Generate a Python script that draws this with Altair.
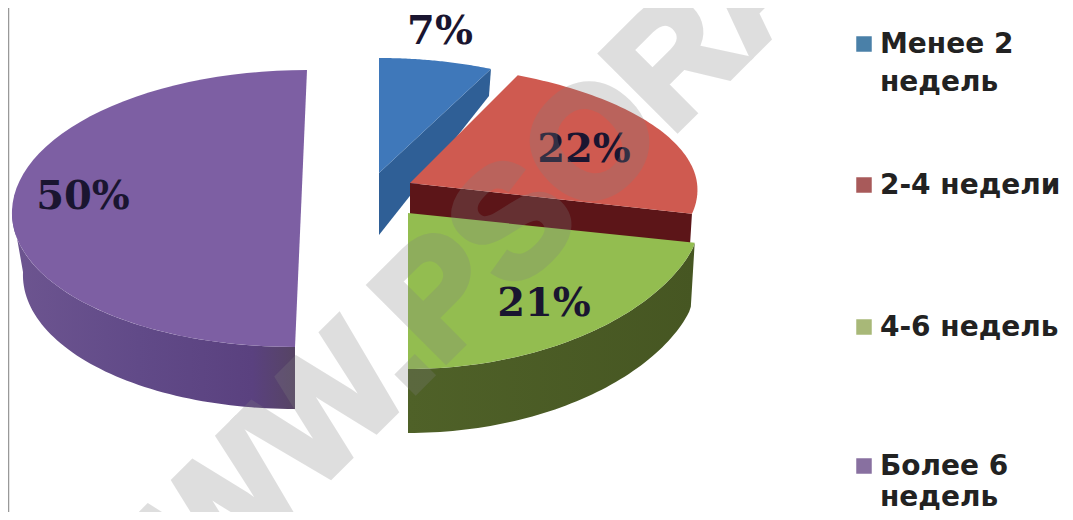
import math
import altair as alt
import pandas as pd

categories = ["Менее 2 недель", "2-4 недели", "4-6 недель", "Более 6 недель"]
shares = [7, 22, 21, 50]
top_colors = ["#3f78ba", "#cf5a50", "#93bd50", "#7d5fa3"]
wall_colors = ["#2f5f96", "#5c1518", "#4a5c24", "#5d4483"]
key_colors = ["#4a80a8", "#a85a5a", "#a8b878", "#8870a0"]
pct_labels = ["7%", "22%", "21%", "50%"]
legend_lines = [["Менее 2", "недель"], ["2-4 недели"], ["4-6 недель"], ["Более 6", "недель"]]

W, H = 1057, 504
xs = alt.Scale(domain=[8, 8 + W], range=[0, W])
ys = alt.Scale(domain=[8, 8 + H], range=[0, H])

# slice geometry (centre, radii back/front/edge, skew, wall height, lower radius)
geom = [
    dict(cx=379, cy=173, rx=263, rb=115, rf=115, re=115, sk=0, dy=62, rx2=263),
    dict(cx=410, cy=183, rx=287, rb=119, rf=124, re=124, sk=-16, dy=27, rx2=287),
    dict(cx=408, cy=213, rx=296, rb=120, rf=156, re=120, sk=0, dy=64, rx2=292),
    dict(cx=301, cy=210, rx=289, rb=140, rf=137, re=137, sk=6, dy=62, rx2=278),
]

starts = []
acc = 0
for s in shares:
    starts.append(acc)
    acc += s


def rim(g, pct, lower=False):
    t = 2 * math.pi * pct / 100
    c = math.cos(t)
    if c > 0:
        r = g["rb"]
    else:
        f = max(0.0, min(1.0, (-c - 0.25) / 0.75)) ** 0.4
        r = g["re"] + (g["rf"] - g["re"]) * f
    rx = g["rx2"] if lower else g["rx"]
    x = g["cx"] + rx * math.sin(t) + g["sk"] * c
    y = g["cy"] - r * c + (g["dy"] if lower else 0)
    return x, y


def poly(points):
    pts = list(points) + [points[0]]
    return pd.DataFrame({"x": [p[0] for p in pts], "y": [p[1] for p in pts], "i": range(len(pts))})


def shape(points, fill):
    return alt.Chart(poly(points)).mark_line(fill=fill, stroke=None, strokeWidth=0, interpolate="linear").encode(
        x=alt.X("x:Q", scale=xs, axis=None),
        y=alt.Y("y:Q", scale=ys, axis=None),
        order="i:Q",
    )


def top(k):
    g = geom[k]
    a0, a1 = starts[k], starts[k] + shares[k]
    n = 60
    arc = [rim(g, a0 + (a1 - a0) * j / n) for j in range(n + 1)]
    return shape([(g["cx"], g["cy"])] + arc, top_colors[k])


def curved_wall(k, a0, a1, fill):
    g = geom[k]
    n = 60
    upper = [rim(g, a0 + (a1 - a0) * j / n) for j in range(n + 1)]
    lower = [rim(g, a1 - (a1 - a0) * j / n, True) for j in range(n + 1)]
    return shape(upper + lower, fill)


def radial_wall(k, pct, depth_in, depth_out, fill):
    g = geom[k]
    ex, ey = rim(g, pct)
    return shape([(g["cx"], g["cy"]), (ex, ey), (ex - 2, ey + depth_out), (g["cx"], g["cy"] + depth_in)], fill)


purple_grad = alt.Gradient(
    gradient="linear", x1=0, x2=1, y1=0, y2=0,
    stops=[
        alt.GradientStop(offset=0, color="#6d5590"),
        alt.GradientStop(offset=0.45, color="#614a88"),
        alt.GradientStop(offset=0.85, color="#5a417f"),
        alt.GradientStop(offset=1, color="#564464"),
    ],
)
green_grad = alt.Gradient(
    gradient="linear", x1=0, x2=1, y1=0, y2=0,
    stops=[
        alt.GradientStop(offset=0, color="#4f6128"),
        alt.GradientStop(offset=1, color="#465622"),
    ],
)

layers = [
    curved_wall(3, 50, 75, purple_grad),
    top(3),
    radial_wall(0, 7, 62, 27, wall_colors[0]),
    top(0),
    radial_wall(1, 29, 32, 32, wall_colors[1]),
    top(1),
    curved_wall(2, 29, 50, green_grad),
    top(2),
]

# percentage labels
lab = pd.DataFrame({"t": pct_labels, "x": [440, 584, 544, 83], "y": [32, 150, 304, 197]})
layers.append(
    alt.Chart(lab).mark_text(font="DejaVu Serif", fontWeight="bold", fontSize=40, color="#1a1530").encode(
        x=alt.X("x:Q", scale=xs, axis=None), y=alt.Y("y:Q", scale=ys, axis=None), text="t:N"
    )
)

# legend
key_y = [44, 185, 327, 466]
keys = pd.DataFrame({"c": categories, "x": [864] * 4, "y": key_y, "col": key_colors})
layers.append(
    alt.Chart(keys).mark_point(shape="square", filled=True, size=240, opacity=1).encode(
        x=alt.X("x:Q", scale=xs, axis=None), y=alt.Y("y:Q", scale=ys, axis=None),
        color=alt.Color("col:N", scale=None, legend=None),
    )
)
rows = []
for yy, lines in zip(key_y, legend_lines):
    for j, line in enumerate(lines):
        rows.append({"t": line, "x": 880, "y": yy + 1 + (38 if yy < 100 else 31) * j})
layers.append(
    alt.Chart(pd.DataFrame(rows)).mark_text(
        font="DejaVu Sans", fontWeight="bold", fontSize=28, align="left", color="#222222"
    ).encode(x=alt.X("x:Q", scale=xs, axis=None), y=alt.Y("y:Q", scale=ys, axis=None), text="t:N")
)

# frame line and watermark
layers.append(
    alt.Chart(pd.DataFrame({"x": [8.5], "y": [8], "y2": [512]})).mark_rule(color="#999999", strokeWidth=1.5).encode(
        x=alt.X("x:Q", scale=xs, axis=None), y=alt.Y("y:Q", scale=ys, axis=None), y2="y2:Q"
    )
)
layers.append(
    alt.Chart(pd.DataFrame({"t": ["WWW.PSORA"], "x": [433], "y": [307]})).mark_text(
        font="Liberation Sans", fontWeight="bold", fontSize=155, angle=315, color="#808080",
        stroke="#808080", strokeWidth=7, opacity=0.25
    ).encode(x=alt.X("x:Q", scale=xs, axis=None), y=alt.Y("y:Q", scale=ys, axis=None), text="t:N")
)

chart = (
    alt.layer(*layers)
    .properties(width=W, height=H, padding=0, autosize=alt.AutoSizeParams(type="none"))
    .configure_view(stroke=None)
)
chart.save("out.html", embed_options={"renderer": "svg", "actions": False})
